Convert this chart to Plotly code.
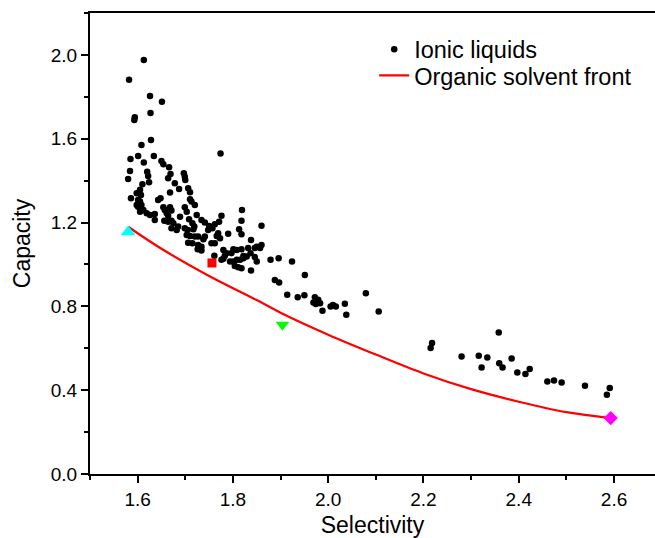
import plotly.graph_objects as go

# Ionic liquids (selectivity, capacity)
il_x = [1.613, 1.582, 1.626, 1.651, 1.594, 1.593, 1.627,
        1.628, 1.608, 1.774, 1.601, 1.634, 1.585, 1.613,
        1.650, 1.654, 1.666, 1.584, 1.620, 1.622, 1.669,
        1.697, 1.699, 1.700, 1.580, 1.664, 1.624, 1.610,
        1.678, 1.687, 1.706, 1.710, 1.605, 1.598, 1.668,
        1.607, 1.586, 1.601, 1.605, 1.643, 1.648, 1.710,
        1.713, 1.598, 1.601, 1.608, 1.720, 1.654, 1.657,
        1.668, 1.671, 1.699, 1.612, 1.619, 1.605, 1.626,
        1.636, 1.661, 1.664, 1.703, 1.724, 1.636, 1.689,
        1.656, 1.664, 1.671, 1.675, 1.708, 1.715, 1.734,
        1.741, 1.776, 1.771, 1.762, 1.750, 1.757, 1.748,
        1.671, 1.682, 1.685, 1.699, 1.705, 1.717, 1.719,
        1.790, 1.703, 1.710, 1.720, 1.727, 1.741, 1.738,
        1.766, 1.773, 1.755, 1.762, 1.706, 1.715, 1.727,
        1.734, 1.726, 1.734, 1.780, 1.783, 1.801, 1.797,
        1.819, 1.818, 1.860, 1.813, 1.818, 1.769, 1.838,
        1.860, 1.857, 1.846, 1.818, 1.837, 1.829, 1.846,
        1.850, 1.761, 1.780, 1.776, 1.794, 1.801, 1.808,
        1.815, 1.822, 1.804, 1.811, 1.818, 1.838, 1.879,
        1.896, 1.924, 1.951, 1.888, 1.897, 1.914, 1.936,
        1.950, 1.832, 1.850, 1.787, 1.808, 1.822,
        1.972, 1.979, 1.969, 1.974, 1.983, 1.988, 2.005,
        2.010, 2.016, 2.035, 2.038, 2.079, 2.106,
        2.215, 2.218, 2.280, 2.316, 2.322, 2.334, 2.358,
        2.359, 2.366, 2.385, 2.397, 2.414, 2.423, 2.460,
        2.474, 2.490, 2.539, 2.585, 2.591]
il_y = [1.976, 1.881, 1.804, 1.777, 1.702, 1.689, 1.723,
        1.594, 1.570, 1.529, 1.518, 1.518, 1.503, 1.486,
        1.494, 1.478, 1.464, 1.446, 1.443, 1.422, 1.432,
        1.435, 1.419, 1.403, 1.408, 1.411, 1.392, 1.383,
        1.387, 1.360, 1.364, 1.345, 1.356, 1.340, 1.343,
        1.332, 1.316, 1.308, 1.300, 1.308, 1.316, 1.311,
        1.300, 1.284, 1.275, 1.284, 1.284, 1.273, 1.260,
        1.273, 1.257, 1.273, 1.260, 1.244, 1.252, 1.236,
        1.241, 1.244, 1.233, 1.252, 1.236, 1.212, 1.228,
        1.209, 1.204, 1.209, 1.197, 1.216, 1.197, 1.212,
        1.200, 1.232, 1.204, 1.192, 1.184, 1.173, 1.165,
        1.173, 1.165, 1.181, 1.173, 1.165, 1.168, 1.181,
        1.146, 1.141, 1.136, 1.133, 1.133, 1.133, 1.120,
        1.136, 1.125, 1.101, 1.101, 1.104, 1.101, 1.093,
        1.085, 1.073, 1.066, 1.069, 1.041, 1.073, 1.054,
        1.260, 1.209, 1.185, 1.168, 1.144, 1.149, 1.117,
        1.093, 1.078, 1.078, 1.073, 1.054, 1.038, 1.035,
        1.014, 1.041, 1.027, 1.022, 1.014, 1.014, 1.022,
        1.022, 1.030, 0.993, 0.987, 0.982, 0.971, 1.022,
        1.030, 1.014, 0.950, 0.926, 0.914, 0.856, 0.844,
        0.853, 1.078, 1.085, 1.054, 1.069, 1.040,
        0.844, 0.831, 0.818, 0.811, 0.815, 0.779, 0.799,
        0.807, 0.799, 0.812, 0.760, 0.863, 0.775,
        0.601, 0.625, 0.561, 0.564, 0.508, 0.556, 0.675,
        0.529, 0.508, 0.551, 0.484, 0.477, 0.501, 0.442,
        0.446, 0.437, 0.421, 0.378, 0.410]

# Organic solvent front
front_x = [1.58, 1.65, 1.75, 1.85, 1.90, 2.00, 2.10, 2.20, 2.30, 2.40, 2.50, 2.593]
front_y = [1.18, 1.075, 0.945, 0.83, 0.77, 0.665, 0.57, 0.48, 0.405, 0.345, 0.295, 0.267]

# Individual organic solvents
cyan_pt = (1.580, 1.155)
red_pt = (1.756, 1.007)
green_pt = (1.904, 0.712)
magenta_pt = (2.593, 0.267)

FONT = "Liberation Sans, Arial, sans-serif"

fig = go.Figure()
fig.add_trace(go.Scatter(x=il_x, y=il_y, mode="markers", name="Ionic liquids", legend="legend",
                         marker=dict(color="black", size=6.5, line=dict(width=0))))
fig.add_trace(go.Scatter(x=front_x, y=front_y, mode="lines", name="Organic solvent front",
                         legend="legend2",
                         line=dict(color="#ff0000", width=2.2, shape="spline")))
for pt, sym, col, sz in [(cyan_pt, "triangle-up", "#00ffff", 13),
                         (red_pt, "square", "#ff0000", 9),
                         (green_pt, "triangle-down", "#00ff00", 12),
                         (magenta_pt, "diamond", "#ff00ff", 11)]:
    fig.add_trace(go.Scatter(x=[pt[0]], y=[pt[1]], mode="markers", showlegend=False,
                             marker=dict(symbol=sym, color=col, size=sz, line=dict(width=0))))

leg_common = dict(xanchor="left", yanchor="top", font=dict(size=23.5, family=FONT, color="black"),
                  bgcolor="rgba(0,0,0,0)", borderwidth=0, itemsizing="trace")

fig.update_layout(
    width=655, height=538,
    margin=dict(l=90, r=0, t=13, b=64),
    plot_bgcolor="white", paper_bgcolor="white",
    font=dict(family=FONT, color="black", size=19),
    legend=dict(x=0.503, y=0.9685, **leg_common),
    legend2=dict(x=0.503, y=0.912, **leg_common),
    xaxis=dict(range=[1.5, 2.686], showgrid=False, zeroline=False, automargin=False,
               showline=True, linecolor="black", linewidth=2, mirror=True,
               ticks="outside", ticklen=7, tickwidth=2, tickcolor="black",
               tick0=1.6, dtick=0.2, tickformat=".1f",
               minor=dict(ticks="outside", ticklen=4, tickwidth=2, tickcolor="black", dtick=0.1, tick0=1.5),
               title=dict(text="Selectivity", font=dict(size=23, family=FONT), standoff=13),
               tickfont=dict(size=19, family=FONT)),
    yaxis=dict(range=[0, 2.2], showgrid=False, zeroline=False, automargin=False,
               showline=True, linecolor="black", linewidth=2, mirror=False,
               ticks="outside", ticklen=7, tickwidth=2, tickcolor="black",
               tick0=0, dtick=0.4, tickformat=".1f",
               minor=dict(ticks="outside", ticklen=4, tickwidth=2, tickcolor="black", dtick=0.2, tick0=0),
               title=dict(text="Capacity", font=dict(size=23, family=FONT), standoff=14),
               tickfont=dict(size=19, family=FONT)),
)

fig.write_html("out.html", config={"displayModeBar": False},
               post_script="document.body.style.margin='0px';document.body.style.overflow='hidden';")
